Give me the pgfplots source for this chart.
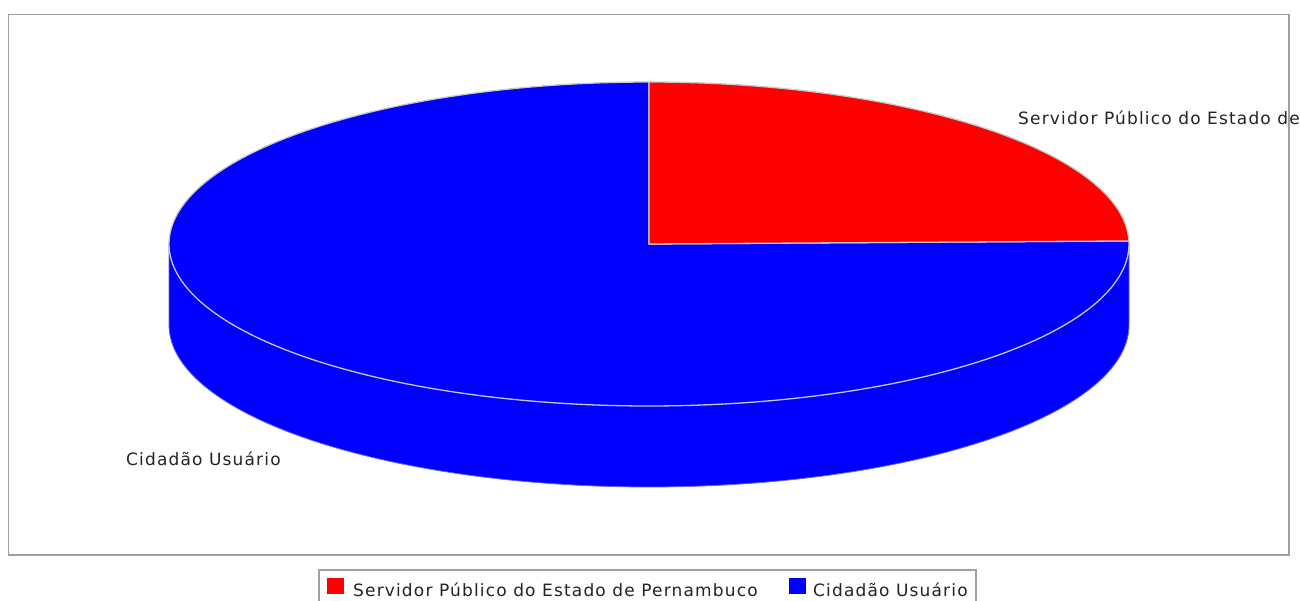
\documentclass[border=0pt]{standalone}
\usepackage{fontspec}
\setmainfont{DejaVu Sans}[LetterSpace=6.8]
\usepackage{pgfplots}
\pgfplotsset{compat=1.18}
\definecolor{pieblue}{RGB}{0,0,255}
\definecolor{piered}{RGB}{255,0,0}
\definecolor{outl}{RGB}{200,200,200}
\definecolor{frm}{RGB}{160,160,160}
\definecolor{txt}{RGB}{35,35,35}
\tikzset{lbl/.style={anchor=base west, inner sep=0pt, text=txt, font=\fontsize{17pt}{20pt}\selectfont}}

% data (percent)
\def\valA{24.7}% Servidor Público do Estado de Pernambuco
\def\valB{75.3}% Cidadão Usuário
\pgfmathsetmacro\angA{90-\valA/(\valA+\valB)*360}
\pgfmathsetmacro\angB{\angA-\valB/(\valA+\valB)*360}

\begin{document}
\begin{tikzpicture}
\begin{axis}[scale only axis, width=1300pt, height=601pt,
  xmin=0, xmax=1300, ymin=0, ymax=601, y dir=reverse,
  axis lines=none, clip=false]
% outer frame
\draw[frm, line width=1.6pt] (axis cs:8.5,14.5) rectangle (axis cs:1289,555);
% side of the pie
\addplot[fill=pieblue, draw=outl!50!pieblue, line width=0.8pt, variable=\t, domain=180:360, samples=150]
  ({649+480*cos(\t)},{325-162*sin(\t)}) -- (axis cs:1129,244) -- (axis cs:169,244) -- cycle;
% top: blue wedge
\addplot[fill=pieblue, draw=outl, line width=1.3pt, variable=\t, domain=\angB:\angA, samples=240]
  ({649+480*cos(\t)},{244-162*sin(\t)}) -- (axis cs:649,244) -- cycle;
% top: red wedge
\addplot[fill=piered, draw=outl, line width=1.3pt, variable=\t, domain=\angA:90, samples=80]
  ({649+480*cos(\t)},{244-162*sin(\t)}) -- (axis cs:649,244) -- cycle;
% labels
\node[lbl] at (axis cs:1018,125) {Servidor Público do Estado de Pernambuco};
\node[lbl] at (axis cs:126,465) {Cidadão Usuário};
% legend
\draw[frm, line width=1.6pt] (axis cs:319,570) rectangle (axis cs:976,620);
\fill[piered] (axis cs:327,578) rectangle (axis cs:344,594);
\node[lbl] at (axis cs:353,596.5) {Servidor Público do Estado de Pernambuco};
\fill[pieblue] (axis cs:789,578) rectangle (axis cs:806,594);
\node[lbl] at (axis cs:813,596.5) {Cidadão Usuário};
\end{axis}
\pgfresetboundingbox
\path[use as bounding box] (0,0) rectangle (1300pt,601pt);
\end{tikzpicture}
\end{document}
